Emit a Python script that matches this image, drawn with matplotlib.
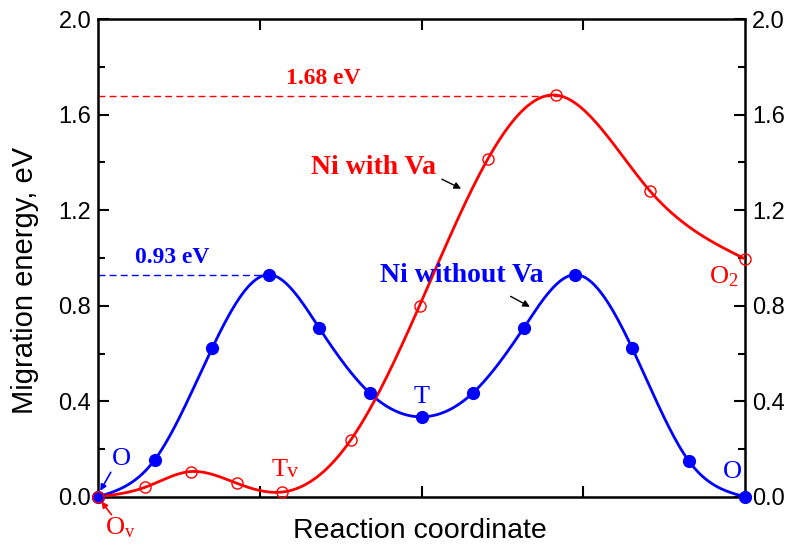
import numpy as np
import matplotlib
matplotlib.use("Agg")
import matplotlib.pyplot as plt

# ---- data ----
x_blue = [0.0, 0.35, 0.707, 1.055, 1.368, 1.68, 2.0, 2.317, 2.63, 2.95, 3.30, 3.65, 4.0]
e_blue = [0.0, 0.155, 0.625, 0.93, 0.706, 0.434, 0.335, 0.435, 0.706, 0.93, 0.625, 0.152, 0.0]

x_red = [0.0, 0.29, 0.573, 0.857, 1.136, 1.562, 1.987, 2.409, 2.83, 3.41, 4.0]
e_red = [0.0, 0.04, 0.106, 0.057, 0.02, 0.238, 0.80, 1.414, 1.682, 1.282, 0.996]

barrier_blue = 0.93
barrier_red = 1.68
y_ticks = [0.0, 0.4, 0.8, 1.2, 1.6, 2.0]

BLUE = "#0000ff"
RED = "#ff0000"


def natural_spline(x, y, n=400):
    x = np.asarray(x, float)
    y = np.asarray(y, float)
    N = len(x)
    h = np.diff(x)
    A = np.zeros((N, N))
    b = np.zeros(N)
    A[0, 0] = 1
    A[-1, -1] = 1
    for i in range(1, N - 1):
        A[i, i - 1] = h[i - 1]
        A[i, i] = 2 * (h[i - 1] + h[i])
        A[i, i + 1] = h[i]
        b[i] = 3 * ((y[i + 1] - y[i]) / h[i] - (y[i] - y[i - 1]) / h[i - 1])
    c = np.linalg.solve(A, b)
    xs = np.linspace(x[0], x[-1], n)
    idx = np.clip(np.searchsorted(x, xs) - 1, 0, N - 2)
    bb = (y[1:] - y[:-1]) / h - h * (2 * c[:-1] + c[1:]) / 3
    d = (c[1:] - c[:-1]) / (3 * h)
    t = xs - x[idx]
    ys = y[idx] + bb[idx] * t + c[idx] * t ** 2 + d[idx] * t ** 3
    return xs, ys


plt.rcParams["font.family"] = ["Liberation Sans", "DejaVu Sans"]
plt.rcParams["mathtext.fontset"] = "stix"

fig = plt.figure(figsize=(7.91, 5.46), dpi=100)
ax = fig.add_axes([0.124, 0.09, 0.818, 0.875])

xs, ys = natural_spline(x_blue, e_blue)
ax.plot(xs, ys, color=BLUE, lw=2.0, zorder=3)
ax.plot(x_blue, e_blue, "o", color=BLUE, ms=8.5, zorder=4, clip_on=False)

xs, ys = natural_spline(x_red, e_red)
ax.plot(xs, ys, color=RED, lw=2.0, zorder=3)
ax.plot(x_red, e_red, "o", mfc="none", mec=RED, mew=1.0, ms=8, zorder=4, clip_on=False)

# barrier dashed lines
ax.plot([0, x_blue[3]], [barrier_blue, barrier_blue], ls=(0, (5, 3)), color=BLUE, lw=1.0)
ax.plot([0, x_red[8] + 0.04], [barrier_red, barrier_red], ls=(0, (5, 3)), color=RED, lw=1.0)

serif = ["Liberation Serif", "DejaVu Serif"]
ax.text(1.394, 1.73, "1.68 eV", color=RED, fontsize=17, fontweight="bold", family=serif, va="baseline", ha="center")
ax.text(0.457, 0.98, "0.93 eV", color=BLUE, fontsize=17, fontweight="bold", family=serif, va="baseline", ha="center")
ax.text(1.70, 1.38, "Ni with Va", color=RED, fontsize=20, fontweight="bold", family=serif, va="center", ha="center")
ax.text(2.25, 0.925, "Ni without Va", color=BLUE, fontsize=20, fontweight="bold", family=serif, va="center", ha="center")
ax.annotate("", xy=(2.26, 1.285), xytext=(2.11, 1.335),
            arrowprops=dict(arrowstyle="-|>", color="black", lw=1.0, mutation_scale=10))
ax.annotate("", xy=(2.685, 0.79), xytext=(2.535, 0.845),
            arrowprops=dict(arrowstyle="-|>", color="black", lw=1.0, mutation_scale=10))

ax.text(2.0, 0.42, "T", color=BLUE, fontsize=19, family=serif, ha="center", va="center")
ax.text(1.125, 0.113, "T", color=RED, fontsize=19, family=serif, ha="center", va="center")
ax.text(1.205, 0.100, "v", color=RED, fontsize=16, family=serif, ha="center", va="center")
ax.text(0.142, 0.16, "O", color=BLUE, fontsize=19, family=serif, ha="center", va="center")
ax.annotate("", xy=(0.005, 0.015), xytext=(0.087, 0.113),
            arrowprops=dict(arrowstyle="-|>", color=BLUE, lw=1.2, mutation_scale=9))
ax.text(0.136, -0.13, r"O$_\mathregular{v}$", color=RED, fontsize=19, family=serif, ha="center", va="center",
        clip_on=False)
ax.annotate("", xy=(0.01, -0.01), xytext=(0.093, -0.084),
            arrowprops=dict(arrowstyle="-|>", color=RED, lw=1.2, mutation_scale=9), annotation_clip=False)
ax.text(3.92, 0.105, "O", color=BLUE, fontsize=19, family=serif, ha="center", va="center")
ax.text(3.87, 0.92, r"O$_\mathregular{2}$", color=RED, fontsize=19, family=serif, ha="center", va="center")

ax.set_xlim(0, 4)
ax.set_ylim(0, 2.0)
ax.set_xticks([1, 2, 3])
ax.set_xticklabels([])
ax.set_yticks(y_ticks)
ax.set_yticklabels([f"{v:.1f}" for v in y_ticks])
ax.set_yticks(np.arange(0.2, 2.0, 0.4), minor=True)
ax.tick_params(axis="both", which="major", direction="in", length=8, width=1.5, labelsize=17,
               top=True, right=True, labelright=True, pad=5)
ax.tick_params(axis="y", which="minor", direction="in", length=5, width=1.5, right=True)
for s in ax.spines.values():
    s.set_linewidth(1.8)
ax.set_xlabel("Reaction coordinate", fontsize=20.5)
ax.set_ylabel("Migration energy, eV", fontsize=21)
ax.xaxis.set_label_coords(0.498, -0.071)
ax.yaxis.set_label_coords(-0.113, 0.454)
ax.xaxis.label.set_va("center")
ax.yaxis.label.set_va("center")

fig.savefig("out.png", dpi=100)
